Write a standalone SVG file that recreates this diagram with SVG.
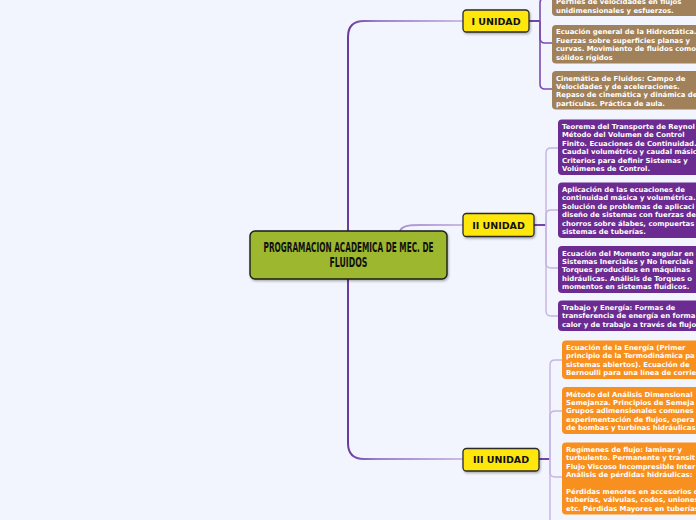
<svg xmlns="http://www.w3.org/2000/svg" width="696" height="520" viewBox="0 0 696 520">
<defs>
<linearGradient id="gTrunk" gradientUnits="userSpaceOnUse" x1="348" y1="0" x2="463" y2="0">
<stop offset="0" stop-color="#6a3a9e"/><stop offset="0.25" stop-color="#9c7fcb"/><stop offset="1" stop-color="#cbbbe6"/>
</linearGradient>
<filter id="sh" x="-10%" y="-20%" width="130%" height="150%">
<feDropShadow dx="1" dy="1.5" stdDeviation="1" flood-color="#000" flood-opacity="0.3"/>
</filter>
<style>
.trunk{fill:none;stroke:url(#gTrunk);stroke-width:2}
.stem{fill:none;stroke:#7244a8;stroke-width:2}
.br{fill:none;stroke:#c6b4e2;stroke-width:1.4}
.brd{fill:none;stroke:#7a4cb2;stroke-width:1.6}
.unit{fill:#ffe70f;stroke:#2a2a2a;stroke-width:1.3}
.ut{font-family:"DejaVu Sans",Verdana,sans-serif;font-weight:bold;font-size:9.5px;fill:#111;text-anchor:middle}
.t{font-family:"DejaVu Sans",Verdana,sans-serif;font-weight:bold;font-size:6.9px;fill:#fff}
.brown{fill:#a0815a}
.purple{fill:#6b2b90}
.orange{fill:#f7901e}
.ct{font-family:"Liberation Sans Narrow","DejaVu Sans Condensed","Liberation Sans",sans-serif;font-weight:bold;font-size:13.5px;fill:#111;text-anchor:middle}
</style>
</defs>
<rect width="696" height="520" fill="#f3f5fe"/>

<g id="connectors">
<path class="trunk" d="M348 231 L348 37 Q348 21 364 21 L463 21"/>
<path class="trunk" d="M348 279 L348 443 Q348 459 364 459 L463 459"/>
<path class="trunk" d="M400 231 C402 226 408 225 420 225 L463 225"/>
<path class="stem" d="M529 21 L540 21"/>
<path class="brd" d="M540 21 L540 3 Q540 -2 545 -2 L552 -2"/>
<path class="brd" d="M540 21 L540 38 Q540 43 545 43 L552 43"/>
<path class="brd" d="M540 21 L540 84 Q540 89 545 89 L552 89"/>
<path class="stem" d="M534 225 L546 225"/>
<path class="br" d="M546 225 L546 153 Q546 148 551 148 L558 148"/>
<path class="br" d="M546 225 L546 215 Q546 210 551 210 L558 210"/>
<path class="br" d="M546 225 L546 263 Q546 268 551 268 L558 268"/>
<path class="br" d="M546 225 L546 311 Q546 316 551 316 L558 316"/>
<path class="stem" d="M539 459 L550 459"/>
<path class="br" d="M550 459 L550 365 Q550 360 555 360 L562 360"/>
<path class="br" d="M550 459 L550 416 Q550 411 555 411 L562 411"/>
<path class="br" d="M550 459 L550 472 Q550 477 555 477 L562 477"/>
<path class="br" d="M550 459 L550 530"/>
</g>

<g id="central">
<rect x="250" y="231" width="197" height="48" rx="5" fill="#9db82e" stroke="#1a1a1a" stroke-width="1.4" filter="url(#sh)"/>
<text class="ct" x="348.5" y="251.7" textLength="170" lengthAdjust="spacingAndGlyphs">PROGRAMACION ACADEMICA DE MEC. DE</text>
<text class="ct" x="348.5" y="266.7" textLength="38" lengthAdjust="spacingAndGlyphs">FLUIDOS</text>
</g>

<g id="unidad1">
<rect class="unit" x="463" y="10" width="66" height="22" rx="3.5" filter="url(#sh)"/>
<text class="ut" x="496" y="25.3">I UNIDAD</text>
</g>
<g id="unidad2">
<rect class="unit" x="463" y="213.5" width="71" height="23" rx="3.5" filter="url(#sh)"/>
<text class="ut" x="498.5" y="229">II UNIDAD</text>
</g>
<g id="unidad3">
<rect class="unit" x="463" y="448.5" width="76" height="22.5" rx="3.5" filter="url(#sh)"/>
<text class="ut" x="501" y="463">III UNIDAD</text>
</g>

<g id="b1">
<rect class="brown" x="552" y="-25" width="170" height="41" rx="4"/>
<text class="t"><tspan x="556" y="4.2">Perfiles de velocidades en flujos</tspan><tspan x="556" y="12.6">unidimensionales y esfuerzos.</tspan></text>
</g>
<g id="b2">
<rect class="brown" x="552" y="25" width="170" height="38.5" rx="4"/>
<text class="t"><tspan x="556" y="34.4">Ecuación general de la Hidrostática.</tspan><tspan x="556" y="42.8">Fuerzas sobre superficies planas y</tspan><tspan x="556" y="51.2">curvas. Movimiento de fluidos como</tspan><tspan x="556" y="59.6">sólidos rígidos</tspan></text>
</g>
<g id="b3">
<rect class="brown" x="552" y="71" width="170" height="38.5" rx="4"/>
<text class="t"><tspan x="556" y="80.5">Cinemática de Fluidos: Campo de</tspan><tspan x="556" y="88.9">Velocidades y de aceleraciones.</tspan><tspan x="556" y="97.3">Repaso de cinemática y dinámica de</tspan><tspan x="556" y="105.7">partículas. Práctica de aula.</tspan></text>
</g>

<g id="p1">
<rect class="purple" x="558" y="119.5" width="170" height="55.5" rx="4"/>
<text class="t"><tspan x="562" y="129">Teorema del Transporte de Reynol</tspan><tspan x="562" y="137.4">Método del Volumen de Control</tspan><tspan x="562" y="145.8">Finito. Ecuaciones de Continuidad.</tspan><tspan x="562" y="154.2">Caudal volumétrico y caudal másic</tspan><tspan x="562" y="162.6">Criterios para definir Sistemas y</tspan><tspan x="562" y="171">Volúmenes de Control.</tspan></text>
</g>
<g id="p2">
<rect class="purple" x="558" y="182.5" width="170" height="55.5" rx="4"/>
<text class="t"><tspan x="562" y="192">Aplicación de las ecuaciones de</tspan><tspan x="562" y="200.4">continuidad másica y volumétrica.</tspan><tspan x="562" y="208.8">Solución de problemas de aplicaci</tspan><tspan x="562" y="217.2">diseño de sistemas con fuerzas de</tspan><tspan x="562" y="225.6">chorros sobre álabes, compuertas</tspan><tspan x="562" y="234">sistemas de tuberías.</tspan></text>
</g>
<g id="p3">
<rect class="purple" x="558" y="246" width="170" height="47" rx="4"/>
<text class="t"><tspan x="562" y="255.5">Ecuación del Momento angular en</tspan><tspan x="562" y="263.9">Sistemas Inerciales y No Inerciale</tspan><tspan x="562" y="272.3">Torques producidas en máquinas</tspan><tspan x="562" y="280.7">hidráulicas. Análisis de Torques o</tspan><tspan x="562" y="289.1">momentos en sistemas fluídicos.</tspan></text>
</g>
<g id="p4">
<rect class="purple" x="558" y="300.5" width="170" height="30.5" rx="4"/>
<text class="t"><tspan x="562" y="310">Trabajo y Energía: Formas de</tspan><tspan x="562" y="318.4">transferencia de energía en forma</tspan><tspan x="562" y="326.8">calor y de trabajo a través de flujo</tspan></text>
</g>

<g id="o1">
<rect class="orange" x="562" y="340.5" width="170" height="38.5" rx="4"/>
<text class="t"><tspan x="566" y="350">Ecuación de la Energía (Primer</tspan><tspan x="566" y="358.4">principio de la Termodinámica pa</tspan><tspan x="566" y="366.8">sistemas abiertos). Ecuación de</tspan><tspan x="566" y="375.2">Bernoulli para una línea de corrie</tspan></text>
</g>
<g id="o2">
<rect class="orange" x="562" y="387" width="170" height="47" rx="4"/>
<text class="t"><tspan x="566" y="396.5">Método del Análisis Dimensional</tspan><tspan x="566" y="404.9">Semejanza. Principios de Semeja</tspan><tspan x="566" y="413.3">Grupos adimensionales comunes</tspan><tspan x="566" y="421.7">experimentación de flujos, opera</tspan><tspan x="566" y="430.1">de bombas y turbinas hidráulicas</tspan></text>
</g>
<g id="o3">
<rect class="orange" x="562" y="442.5" width="170" height="72" rx="4"/>
<text class="t"><tspan x="566" y="452">Regímenes de flujo: laminar y</tspan><tspan x="566" y="460.4">turbulento. Permanente y transit</tspan><tspan x="566" y="468.8">Flujo Viscoso Incompresible Inter</tspan><tspan x="566" y="477.2">Análisis de pérdidas hidráulicas:</tspan><tspan x="566" y="494">Pérdidas menores en accesorios de</tspan><tspan x="566" y="502.4">tuberías, válvulas, codos, uniones</tspan><tspan x="566" y="510.8">etc. Pérdidas Mayores en tuberías</tspan></text>
</g>
</svg>
